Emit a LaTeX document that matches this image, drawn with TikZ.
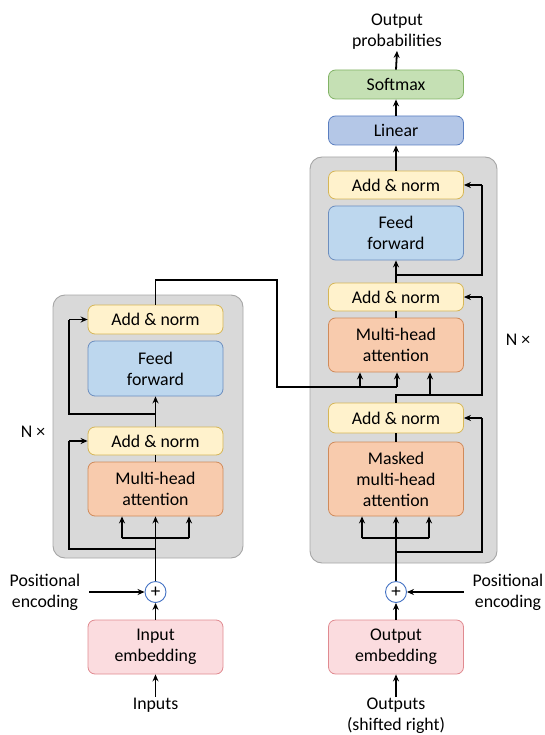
\documentclass[tikz,border=0pt]{standalone}
\usepackage{fontspec}
\setmainfont{Carlito}
\usetikzlibrary{arrows.meta}
\definecolor{greyfill}{HTML}{D9D9D9}
\definecolor{greyline}{HTML}{A6A6A6}
\definecolor{addfill}{HTML}{FFF2CC}
\definecolor{addline}{HTML}{D6B656}
\definecolor{fffill}{HTML}{BDD7EE}
\definecolor{ffline}{HTML}{6C8EBF}
\definecolor{mhafill}{HTML}{F8CBAD}
\definecolor{mhaline}{HTML}{D08A5A}
\definecolor{embfill}{HTML}{FBDCDF}
\definecolor{embline}{HTML}{E08A90}
\definecolor{smfill}{HTML}{C5E0B4}
\definecolor{smline}{HTML}{82B366}
\definecolor{linfill}{HTML}{B4C7E7}
\definecolor{linline}{HTML}{5A7EC0}
\definecolor{plusline}{HTML}{4472C4}
\begin{document}
\begin{tikzpicture}[x=1pt,y=-1pt,
  txt/.style={font=\fontsize{17.8}{21}\selectfont, align=center, inner sep=1pt},
  blk/.style={txt, draw, rounded corners=7pt, line width=0.8pt, minimum width=135pt, inner sep=0pt},
  addn/.style={blk, fill=addfill, draw=addline},
  ffb/.style={blk, fill=fffill, draw=ffline},
  mha/.style={blk, fill=mhafill, draw=mhaline},
  emb/.style={blk, fill=embfill, draw=embline},
  smx/.style={blk, fill=smfill, draw=smline},
  lin/.style={blk, fill=linfill, draw=linline},
  grp/.style={draw=greyline, fill=greyfill, rounded corners=12pt, line width=0.9pt, inner sep=0pt},
  plus/.style={draw=plusline, fill=white, circle, line width=0.9pt, minimum size=21pt, inner sep=0pt, font=\fontsize{19}{19}\selectfont},
  ln/.style={line width=1.8pt, black},
  ar/.style={ln, -{Stealth[length=7pt,width=6pt]}}
]
\useasboundingbox (0,0) rectangle (545,735);

% ---------------- Encoder ----------------
\node[grp, minimum width=190pt, minimum height=263pt] (E) at (148,426.5) {};
\node[addn, minimum height=29pt] (eAN2) at (155.5,319.5) {Add \& norm};
\node[ffb, minimum height=55pt] (eFF) at (155.5,368.5) {Feed\\forward};
\node[addn, minimum height=28pt] (eAN1) at (155.5,441) {Add \& norm};
\node[mha, minimum height=54pt] (eMHA) at (155.5,489) {Multi-head\\attention};
\node[plus] (eP) at (155.5,592) {+};
\node[emb, minimum height=54pt] (eEmb) at (155.5,647) {Input\\embedding};
\node[txt] (inp) at (155.5,705) {Inputs};
\node[txt] (ePE) at (45,592) {Positional\\encoding};
\node[txt] (eN) at (33,432) {N ×};

\coordinate (eBarL) at (122,538);
\coordinate (eBarR) at (189,538);
\coordinate (eR1) at (155.5,549);
\coordinate (eL1) at (69,441);
\coordinate (eR2) at (155.5,414);
\coordinate (eL2) at (69,319.5);
\coordinate (eO1) at (155.5,280);
\coordinate (eO2) at (277,280);
\coordinate (eO3) at (277,387);
\coordinate (eO4) at (397,387);
\coordinate (eO5) at (360,387);

\draw[ar] (inp) -- (eEmb.south);
\draw[ar] (eEmb.north) -- (eP.south);
\draw[ar] (ePE.east |- eP) ++(8,0) -- (eP.west);
\draw[ar] (eP.north) -- (eMHA.south);
\draw[ln] (eBarL) -- (eBarR);
\draw[ar] (eBarL) -- (eBarL |- eMHA.south);
\draw[ar] (eBarR) -- (eBarR |- eMHA.south);
\draw[ln] (eR1) -| (eL1);
\draw[ar] (eL1) -- (eAN1.west);
\draw[ln] (eMHA.north) -- (eAN1.south);
\draw[ar] (eAN1.north) -- (eFF.south);
\draw[ln] (eR2) -| (eL2);
\draw[ar] (eL2) -- (eAN2.west);

% ---------------- Decoder ----------------
\node[grp, minimum width=187pt, minimum height=406pt] (D) at (403.5,360) {};
\node[addn, minimum height=28pt] (dAN3) at (396,185) {Add \& norm};
\node[ffb, minimum height=54pt] (dFF) at (396,233) {Feed\\forward};
\node[addn, minimum height=28pt] (dAN2) at (396,297) {Add \& norm};
\node[mha, minimum height=54pt] (dMHA) at (396,345) {Multi-head\\attention};
\node[addn, minimum height=30pt] (dAN1) at (396,418) {Add \& norm};
\node[mha, minimum height=74pt] (dMMHA) at (396,479) {Masked\\multi-head\\attention};
\node[plus] (dP) at (396,592) {+};
\node[emb, minimum height=54pt] (dEmb) at (396,647) {Output\\embedding};
\node[txt] (outp) at (396,716) {Outputs\\(shifted right)};
\node[txt] (dPE) at (508,592) {Positional\\encoding};
\node[txt] (dN) at (518,340) {N ×};
\node[lin, minimum height=29pt] (lin) at (396,130.5) {Linear};
\node[smx, minimum height=29pt] (smx) at (396,84.5) {Softmax};
\node[txt] (oprob) at (397,32) {Output\\probabilities};

\coordinate (dBarL) at (362,538);
\coordinate (dBarR) at (429,538);
\coordinate (dR1) at (396,552);
\coordinate (dL1) at (482,418);
\coordinate (dM1) at (396,395);
\coordinate (dM2) at (430,395);
\coordinate (dL2) at (482,297);
\coordinate (dR3) at (396,275);
\coordinate (dL3) at (482,185);

\draw[ar] (outp) -- (dEmb.south);
\draw[ar] (dEmb.north) -- (dP.south);
\draw[ar] (dPE.west |- dP) ++(-8,0) -- (dP.east);
\draw[ar] (dP.north) -- (dMMHA.south);
\draw[ln] (dBarL) -- (dBarR);
\draw[ar] (dBarL) -- (dBarL |- dMMHA.south);
\draw[ar] (dBarR) -- (dBarR |- dMMHA.south);
\draw[ln] (dR1) -| (dL1);
\draw[ar] (dL1) -- (dAN1.east);
\draw[ln] (dMMHA.north) -- (dAN1.south);
\draw[ln] (dAN1.north) -- (dM1) -| (dL2);
\draw[ar] (dL2) -- (dAN2.east);
\draw[ar] (dM2) -- (dM2 |- dMHA.south);
\draw[ln] (dMHA.north) -- (dAN2.south);
\draw[ar] (dAN2.north) -- (dFF.south);
\draw[ln] (dR3) -| (dL3);
\draw[ar] (dL3) -- (dAN3.east);
\draw[ar] (dAN3.north) -- (lin.south);
\draw[ar] (lin.north) -- (smx.south);
\draw[ar] (smx.north) -- (oprob.south);

% ---------------- Encoder to decoder ----------------
\draw[ln] (eAN2.north) -- (eO1) -- (eO2) -- (eO3) -- (eO4);
\draw[ar] (eO5) -- (eO5 |- dMHA.south);
\draw[ar] (eO4) -- (dMHA.south -| eO4);
\end{tikzpicture}
\end{document}
